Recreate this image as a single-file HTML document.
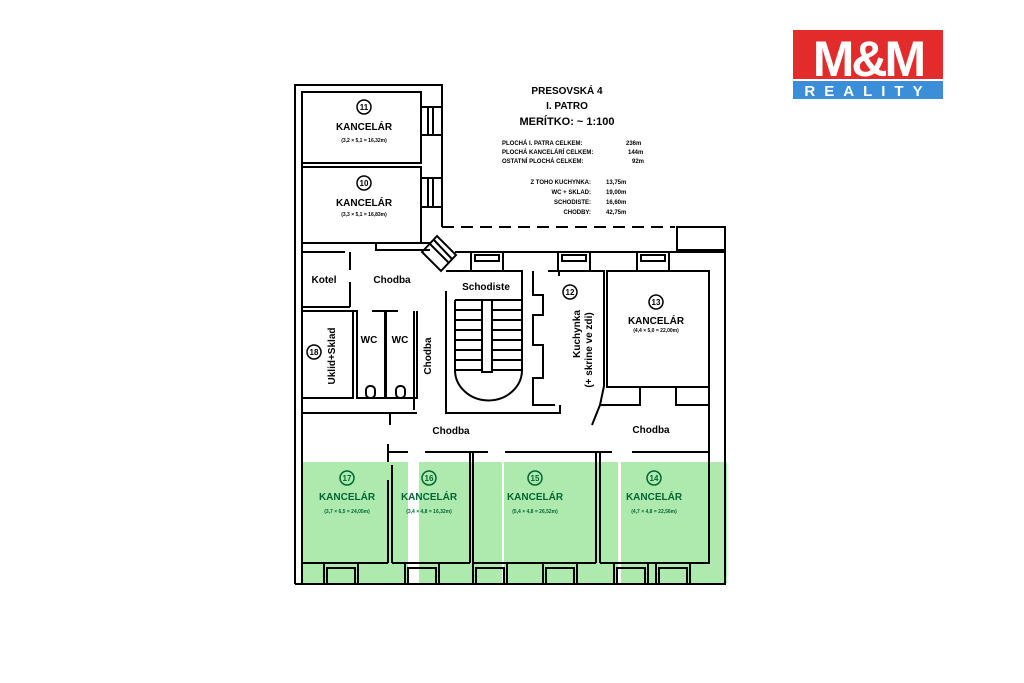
<!DOCTYPE html>
<html><head><meta charset="utf-8"><style>
html,body{margin:0;padding:0;background:#fff}
svg{display:block}
text{font-family:"Liberation Sans",sans-serif;font-weight:bold}
</style></head><body>
<svg width="1024" height="683" viewBox="0 0 1024 683" xmlns="http://www.w3.org/2000/svg">
<rect x="793" y="30" width="150" height="49" fill="#e32b2b"/>
<text x="868" y="76" font-size="50" fill="#fff" text-anchor="middle" font-family="Liberation Sans" style="letter-spacing:-3px">M&amp;M</text>
<rect x="793" y="81" width="150" height="18" fill="#3a8fd8"/>
<text x="868" y="96" font-size="15" fill="#fff" text-anchor="middle" style="letter-spacing:9px">REALITY</text>

<rect x="302" y="462" width="425" height="121" fill="#aeeaae"/>
<rect x="408" y="462" width="11" height="122" fill="#fff"/>
<rect x="502" y="462" width="2" height="122" fill="#fff"/>
<rect x="618" y="462" width="3" height="122" fill="#fff"/>

<g fill="none" stroke="#000" stroke-width="2">
<path d="M295 584 V85 H442 V227"/>
<path d="M442 227 H675" stroke-dasharray="12,7"/>
<rect x="677" y="227" width="48" height="23"/>
<path d="M725 227 V584 H295"/>
<path d="M302 584 V92"/>
<rect x="302" y="92" width="119" height="71"/>
<path d="M302 167 H355 M372 167 H421 M302 163 V167"/>
<rect x="302" y="167" width="119" height="76" />
<path d="M421 243 H430 M376 243 V250 H430"/>
<rect x="421" y="107" width="21" height="28"/><path d="M428 107 V135 M433 107 V135"/>
<rect x="421" y="178" width="21" height="29"/><path d="M428 178 V207 M433 178 V207"/>
<path d="M422 252 L437 236 L456 255 L441 271 Z M430 244 L449 263 M434 240 L452 259"/>
<path d="M455 252 H725"/>
<rect x="471" y="252" width="32" height="19"/><rect x="475" y="255" width="24" height="6"/>
<rect x="558" y="252" width="32" height="19"/><rect x="562" y="255" width="24" height="6"/>
<rect x="637" y="252" width="32" height="19"/><rect x="641" y="255" width="24" height="6"/>
<path d="M302 252 H345 M350 252 V270 M350 282 V307 M302 307 H350"/>
<path d="M302 311 H353 V398 H302"/>
<path d="M346 311 H357 V398 H385 V311 M372 311 H398 M386 311 V398 H417 V311 M414 311 V410"/>
<path d="M302 413 H417 M390 413 V425"/>
<rect x="366" y="386" width="9" height="12" rx="4"/><rect x="396" y="386" width="9" height="12" rx="4"/>
<path d="M446 291 V413 H560 V405 M446 271 H522 V300 M455 300 H522 M455 300 V370 A33 30 0 0 0 522 370 V300"/>
<path d="M455 310 H522 M455 320 H522 M455 330 H522 M455 340 H522 M455 350 H522 M455 360 H522 M455 370 H522"/>
<rect x="482" y="300" width="10" height="72" fill="#fff"/>
<path d="M533 271 V295 H543 V315 H533 V345 H543 V378 H533 V405 H555 M548 271 H604 V386 L600 405 M559 271 V276"/>
<rect x="607" y="271" width="102" height="116"/>
<path d="M607 387 H640 V405 H600 L592 425 M665 387 H676 V405 H709 M709 271 V455"/>
<path d="M388 444 V462 M388 452 H408 M425 452 H488 M505 452 H612 M632 452 H709"/>
<path d="M388 480 V563 M392 563 V465 M470 452 V563 M473 452 V563 M596 452 V563 M600 452 V563"/>
<path d="M302 563 H388 M392 563 H470 M473 563 H596 M600 563 H709 V455"/>
<rect x="324" y="563" width="34" height="21"/><rect x="327" y="568" width="28" height="16"/>
<rect x="405" y="563" width="34" height="21"/><rect x="408" y="568" width="28" height="16"/>
<rect x="473" y="563" width="34" height="21"/><rect x="476" y="568" width="28" height="16"/>
<rect x="543" y="563" width="34" height="21"/><rect x="546" y="568" width="28" height="16"/>
<rect x="614" y="563" width="34" height="21"/><rect x="617" y="568" width="28" height="16"/>
<rect x="656" y="563" width="34" height="21"/><rect x="659" y="568" width="28" height="16"/>
</g>

<g fill="none" stroke="#000" stroke-width="1.5">
<circle cx="364" cy="107" r="7"/><circle cx="364" cy="183" r="7"/>
<circle cx="314" cy="352" r="7"/><circle cx="570" cy="292" r="7"/><circle cx="656" cy="302" r="7"/>
</g>
<g fill="none" stroke="#063" stroke-width="1.5">
<circle cx="347" cy="478" r="7"/><circle cx="429" cy="478" r="7"/><circle cx="535" cy="478" r="7"/><circle cx="654" cy="478" r="7"/>
</g>
<g font-size="8" text-anchor="middle">
<text x="364" y="110">11</text><text x="364" y="186">10</text><text x="314" y="355">18</text><text x="570" y="295">12</text><text x="656" y="305">13</text>
<text x="347" y="481" fill="#063">17</text><text x="429" y="481" fill="#063">16</text><text x="535" y="481" fill="#063">15</text><text x="654" y="481" fill="#063">14</text>
</g>

<g font-size="10" text-anchor="middle">
<text x="364" y="130">KANCELÁR</text><text x="364" y="206">KANCELÁR</text>
<text x="656" y="324">KANCELÁR</text>
<g fill="#063"><text x="347" y="500">KANCELÁR</text><text x="429" y="500">KANCELÁR</text><text x="535" y="500">KANCELÁR</text><text x="654" y="500">KANCELÁR</text></g>
</g>
<g font-size="5" text-anchor="middle">
<text x="364" y="142">(3,2 × 5,1 = 16,32m)</text><text x="364" y="216">(3,3 × 5,1 = 16,83m)</text>
<text x="656" y="332">(4,4 × 5,0 = 22,00m)</text>
<g fill="#063"><text x="347" y="513">(3,7 × 6,5 = 24,05m)</text><text x="429" y="513">(3,4 × 4,8 = 16,32m)</text><text x="535" y="513">(5,4 × 4,8 = 26,52m)</text><text x="654" y="513">(4,7 × 4,8 = 22,56m)</text></g>
</g>
<g font-size="10" text-anchor="middle">
<text x="324" y="283">Kotel</text><text x="392" y="283">Chodba</text>
<text x="486" y="290">Schodiste</text>
<text x="451" y="434">Chodba</text><text x="651" y="433">Chodba</text>
<text x="369" y="343">WC</text><text x="400" y="343">WC</text>
<text transform="translate(431,356) rotate(-90)">Chodba</text>
<text transform="translate(335,356) rotate(-90)">Uklid+Sklad</text>
<text transform="translate(580,334) rotate(-90)">Kuchynka</text>
<text transform="translate(592,350) rotate(-90)">(+ skrine ve zdi)</text>
</g>
<g text-anchor="middle">
<text x="567" y="94" font-size="10">PRESOVSKÁ 4</text>
<text x="567" y="109" font-size="10">I. PATRO</text>
<text x="567" y="125" font-size="11">MERÍTKO: ~ 1:100</text>
</g>
<g font-size="6">
<text x="502" y="145">PLOCHÁ I. PATRA CELKEM:</text><text x="626" y="145">236m</text>
<text x="502" y="154">PLOCHÁ KANCELÁRÍ CELKEM:</text><text x="628" y="154">144m</text>
<text x="502" y="163">OSTATNÍ PLOCHÁ CELKEM:</text><text x="632" y="163">92m</text>
<g text-anchor="end"><text x="591" y="184">Z TOHO  KUCHYNKA:</text><text x="591" y="194">WC + SKLAD:</text><text x="591" y="204">SCHODISTE:</text><text x="591" y="214">CHODBY:</text></g>
<text x="606" y="184">13,75m</text><text x="606" y="194">19,00m</text><text x="606" y="204">16,60m</text><text x="606" y="214">42,75m</text>
</g>
</svg>
</body></html>
